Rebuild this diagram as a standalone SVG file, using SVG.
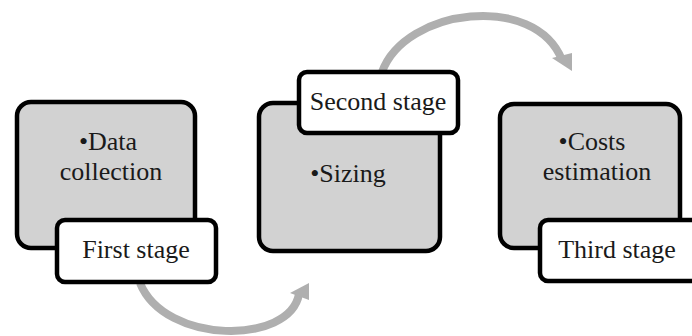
<svg xmlns="http://www.w3.org/2000/svg" width="692" height="336" viewBox="0 0 692 336">
<style>
.box{fill:#d2d2d2;stroke:#000;stroke-width:4.5}
.lbl{fill:#fff;stroke:#000;stroke-width:4.5}
.t{font-family:"Liberation Serif","Times New Roman",serif;font-size:26px;fill:#1a1a1a;text-anchor:middle}
.arc{fill:none;stroke:#afafaf;stroke-width:8}
.head{fill:#afafaf}
</style>
<rect width="692" height="336" fill="#fff"/>
<g id="connectors">
<path class="arc" d="M 382 72 C 405 8, 535 -8, 562 60"/>
<polygon class="head" points="552,58 572,53 572,71"/>
<path class="arc" d="M 140 283 C 165 345, 290 345, 299 294"/>
<polygon class="head" points="290,293 309,283 309,300"/>
</g>
<g id="node1">
<rect class="box" x="17" y="102" width="178" height="146" rx="14"/>
<text class="t" x="108" y="150">•Data</text>
<text class="t" x="111" y="180">collection</text>
</g>
<g id="label1">
<rect class="lbl" x="57" y="220" width="159" height="62" rx="8"/>
<text class="t" x="136" y="258">First stage</text>
</g>
<g id="node2">
<rect class="box" x="259" y="103" width="181" height="148" rx="14"/>
<text class="t" x="348" y="182">•Sizing</text>
</g>
<g id="label2">
<rect class="lbl" x="299" y="72" width="159" height="61" rx="8"/>
<text class="t" x="378" y="110">Second stage</text>
</g>
<g id="node3">
<rect class="box" x="500" y="104" width="180" height="144" rx="14"/>
<text class="t" x="592" y="150">•Costs</text>
<text class="t" x="597" y="180">estimation</text>
</g>
<g id="label3">
<rect class="lbl" x="540" y="220" width="170" height="61" rx="8"/>
<text class="t" x="617" y="258">Third stage</text>
</g>
</svg>
